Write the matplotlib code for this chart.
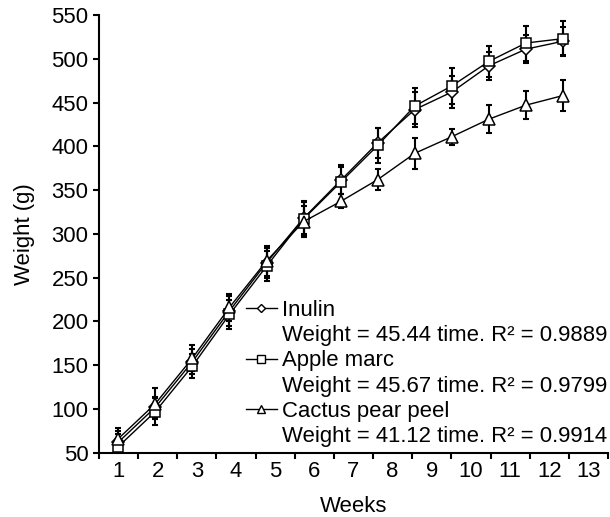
import numpy as np
import matplotlib
matplotlib.use("Agg")
import matplotlib.pyplot as plt
from matplotlib.lines import Line2D

plt.rcParams['font.family'] = ['Liberation Sans', 'DejaVu Sans']
plt.rcParams['font.size'] = 15.9

weeks = np.arange(1, 14)

inulin = [62, 102, 154, 212, 267, 318, 361, 404, 442, 462, 492, 511, 520]
inulin_err = [13, 12, 14, 17, 17, 18, 15, 17, 20, 18, 16, 16, 16]

apple = [57, 97, 149, 208, 263, 317, 359, 401, 446, 469, 497, 518, 523]
apple_err = [14, 15, 14, 17, 17, 20, 20, 20, 21, 21, 18, 20, 20]

cactus = [66, 106, 158, 216, 269, 314, 337, 362, 392, 411, 431, 447, 458]
cactus_err = [12, 18, 15, 15, 17, 18, 8, 12, 18, 9, 16, 16, 18]

labels = ["Inulin", "Apple marc", "Cactus pear peel"]
equations = ["Weight = 45.44 time. R\u00b2 = 0.9889",
             "Weight = 45.67 time. R\u00b2 = 0.9799",
             "Weight = 41.12 time. R\u00b2 = 0.9914"]
markers = ["D", "s", "^"]
msizes = [6, 7.5, 8]
leg_msizes = [4.5, 5.5, 6]

fig = plt.figure(figsize=(6.1, 5.17), dpi=100)
ax = fig.add_axes([99 / 610, 1 - 452.7 / 517, 509 / 610, (452.7 - 15) / 517])

# category axis (labels between the tick marks)
ax.set_xlim(0.5, 13.5)
ax.set_ylim(50, 550)
ax.set_yticks(np.arange(50, 551, 50))
ax.set_xticks(np.arange(0.5, 13.6, 1))
ax.set_xticklabels([])
ax.set_xticks(weeks, minor=True)
ax.set_xticklabels([str(w) for w in weeks], minor=True)
ax.tick_params(axis='x', which='major', direction='out', length=4.5, width=1.5)
ax.tick_params(axis='x', which='minor', length=0, pad=6)
ax.tick_params(axis='y', direction='out', length=4.5, width=1.5, pad=3)
for s in ['top', 'right']:
    ax.spines[s].set_visible(False)
for s in ['left', 'bottom']:
    ax.spines[s].set_linewidth(1.5)
ax.set_xlabel("Weeks", labelpad=10)
ax.set_ylabel("Weight (g)", labelpad=12)

# data axis
ax2 = ax.twiny()
ax2.set_xlim(0.479, 14.214)
ax2.xaxis.set_visible(False)
for s in ax2.spines.values():
    s.set_visible(False)

series = [(inulin, inulin_err), (apple, apple_err), (cactus, cactus_err)]
handles = []
for (vals, err), m, ms, lms in zip(series, markers, msizes, leg_msizes):
    ax2.errorbar(weeks, vals, yerr=err, fmt='none', ecolor='black',
                 elinewidth=1.5, capsize=2.2, capthick=1.5, zorder=2)
    ax2.plot(weeks, vals, color='black', lw=1.0, marker=m, ms=ms,
             mfc='white', mec='black', mew=1.1, zorder=3)
    handles.append(Line2D([], [], color='black', lw=1.0, marker=m, ms=lms,
                          mfc='white', mec='black', mew=1.0))

leg_handles = []
leg_labels = []
for h, lab, eq in zip(handles, labels, equations):
    leg_handles += [h, Line2D([], [], linestyle='none')]
    leg_labels += [lab, eq]

ax2.legend(leg_handles, leg_labels, loc='upper left',
           bbox_to_anchor=(246 / 610, 1 - 300 / 517),
           bbox_transform=fig.transFigure, frameon=False, borderpad=0,
           borderaxespad=0, handlelength=1.4, handletextpad=0.23,
           labelspacing=0.19)

fig.savefig("out.png", dpi=100)
